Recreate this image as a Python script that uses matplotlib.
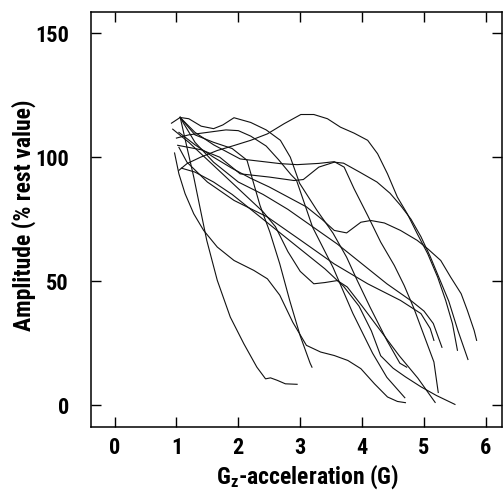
import numpy as np
import matplotlib.pyplot as plt
from matplotlib import font_manager

# traced curves, amplitude (% rest value) vs Gz-acceleration (G)
a_x = [1.06, 1.17, 1.28, 1.39, 1.49, 1.66, 1.87, 2.09, 2.30, 2.44, 2.52, 2.63, 2.76, 2.95]
a_y = [116.2, 104, 92, 78.6, 66.5, 50.4, 35.6, 24.8, 15.4, 10.7, 11.1, 10.1, 8.7, 8.5]

w_x = [0.97, 1.04, 1.14, 1.28, 1.44, 1.66, 1.93, 2.25, 2.47, 2.67, 2.88, 3.10, 3.33, 3.55, 3.77, 3.98, 4.20, 4.41, 4.57, 4.70]
w_y = [101.7, 93.3, 85.3, 77.2, 70.5, 63.8, 58.4, 54.4, 51.0, 44.4, 33.5, 24.2, 21.5, 20.1, 18.1, 14.8, 8.7, 3.4, 1.6, 1.1]

c_x = [1.04, 1.17, 1.39, 1.66, 1.93, 2.20, 2.47, 2.74, 3.01, 3.22, 3.44, 3.65, 3.87, 4.09, 4.25, 4.41, 4.57, 4.73, 4.89, 5.06, 5.22, 5.35, 5.46, 5.54]
c_y = [94.7, 97.4, 100, 102.7, 104.7, 106.8, 109.4, 113.5, 117.2, 117.2, 115.5, 112.1, 109.7, 106.8, 101.4, 93.3, 83.9, 77.2, 69.2, 61.1, 51.7, 42.3, 32.9, 22.2]

t_x = [0.92, 1.06, 1.20, 1.40, 1.60, 1.75, 1.93, 2.20, 2.45, 2.68, 2.84, 2.99, 3.27, 3.53, 3.75, 3.92, 4.13, 4.40, 4.61, 4.72]
t_y = [113.7, 116, 115.5, 112.5, 111.5, 113, 115.9, 114, 111, 106.8, 100, 89.5, 78.6, 69.4, 59.7, 50.4, 39.5, 26.2, 17, 15.4]

d_x = [1.00, 1.20, 1.50, 1.80, 2.00, 2.20, 2.45, 2.65, 2.85, 2.94, 3.20, 3.53, 3.85, 4.17, 4.40, 4.69]
d_y = [107.7, 109, 110, 111, 110.7, 108.5, 104.5, 99, 93, 90.7, 71.8, 55.6, 37.1, 21, 11.3, 3.1]

b_x = [1.02, 1.40, 1.70, 2.03, 2.50, 2.90, 3.05, 3.30, 3.55, 3.70, 3.96, 4.24, 4.45, 4.62, 4.79, 4.95, 5.10, 5.25, 5.40, 5.55, 5.71]
b_y = [104.8, 103, 100, 93.3, 92, 90.6, 91, 96, 98, 97.6, 94, 90, 85.5, 80.6, 75, 68, 60, 51, 42, 30, 18.5]

h_x = [1.06, 1.30, 1.60, 2.03, 2.41, 2.68, 2.95, 3.30, 3.55, 3.71, 3.87, 4.09, 4.30, 4.52, 4.68, 4.84, 5.00, 5.16, 5.23]
h_y = [116, 110, 105, 99.3, 98.2, 97.4, 97, 97.5, 98.2, 96, 87.3, 76.5, 65.8, 56.4, 48.3, 38.9, 28.2, 17.5, 5.2]

e_x = [1.04, 1.30, 1.60, 1.90, 2.20, 2.50, 2.80, 3.10, 3.35, 3.55, 3.75, 3.98, 4.14, 4.36, 4.62, 4.89, 5.06, 5.27, 5.43, 5.60, 5.70, 5.81, 5.85]
e_y = [110, 105, 100, 95.5, 91.5, 88, 84, 80, 75, 70.5, 69.5, 73.8, 74.5, 73.5, 70.5, 66.5, 63.1, 58.4, 51.7, 45, 38.3, 30.2, 26.2]

f_x = [0.94, 1.20, 1.50, 1.80, 2.10, 2.40, 2.60, 2.80, 3.00, 3.22, 3.40, 3.60, 3.76, 4.00, 4.30, 4.60, 4.90, 5.18]
f_y = [111.3, 106, 99, 92, 85, 78, 72, 62, 54, 49, 49.5, 50.3, 47.7, 40, 30, 20, 11, 1.2]

g_x = [1.08, 1.30, 1.60, 1.90, 2.20, 2.50, 2.80, 3.10, 3.40, 3.70, 3.95, 4.15, 4.30, 4.50, 4.70, 4.95, 5.20, 5.50]
g_y = [95.6, 94, 90, 85, 79, 73, 67, 61, 55, 48, 40, 30, 20, 15, 11.5, 7.5, 4, 0.4]

s_x = [1.06, 1.30, 1.60, 1.90, 2.14, 2.35, 2.51, 2.67, 2.83, 3.00, 3.16, 3.19]
s_y = [116, 109, 106, 103.5, 98.8, 80.6, 69.8, 57, 42.3, 28, 17, 15.4]

p_x = [1.04, 1.17, 1.50, 1.93, 2.47, 3.01, 3.55, 4.09, 4.62, 4.95, 5.10, 5.16]
p_y = [104, 98, 90, 82.6, 75.9, 66.5, 57, 49, 42.3, 37, 31, 26.2]

q_x = [1.06, 1.30, 1.60, 2.00, 2.40, 2.80, 3.20, 3.60, 4.00, 4.40, 4.80, 5.00, 5.15, 5.29]
q_y = [116, 106, 98, 90, 85, 79, 72, 65, 57, 49, 42, 38, 33, 23.4]

curves = [(a_x, a_y), (w_x, w_y), (c_x, c_y), (t_x, t_y), (d_x, d_y), (b_x, b_y),
          (h_x, h_y), (e_x, e_y), (f_x, f_y), (g_x, g_y), (s_x, s_y), (p_x, p_y), (q_x, q_y)]

xticks = [0, 1, 2, 3, 4, 5, 6]
yticks = [0, 50, 100, 150]

# pick the narrowest bold font that is actually installed
names = set(f.name for f in font_manager.fontManager.ttflist)
font = 'DejaVu Sans'
stretch = 'condensed'
for cand in ['Liberation Sans Narrow', 'Roboto Condensed', 'Open Sans Condensed', 'Noto Sans Condensed']:
    if cand in names:
        font = cand
        stretch = 'normal'
        break

plt.rcParams['mathtext.fontset'] = 'custom'
plt.rcParams['mathtext.rm'] = font + ':bold'
plt.rcParams['mathtext.it'] = font + ':bold'
plt.rcParams['mathtext.bf'] = font + ':bold'

fig = plt.figure(figsize=(5.04, 4.9), dpi=100)
ax = fig.add_axes([91/504, 1 - 427/490, 411/504, 415/490])

for cx, cy in curves:
    ax.plot(cx, cy, color='#111111', lw=0.8)

ax.set_xlim(-0.38, 6.26)
ax.set_ylim(-8.7, 158.5)
ax.set_xticks(xticks)
ax.set_yticks(yticks)
ax.tick_params(direction='in', length=7, width=1, top=True, right=True, labelsize=16)
ax.tick_params(axis='x', pad=7)
ax.tick_params(axis='y', pad=16)
for lab in ax.get_xticklabels() + ax.get_yticklabels():
    lab.set_family(font)
    lab.set_fontweight('bold')
    lab.set_fontstretch(stretch)
for sp in ax.spines.values():
    sp.set_linewidth(1.1)

ax.set_xlabel(r'G$_\mathrm{z}$-acceleration (G)', family=font, fontweight='bold', fontstretch=stretch, fontsize=17)
ax.set_ylabel('Amplitude (% rest value)', family=font, fontweight='bold', fontstretch=stretch, fontsize=17)
ax.xaxis.set_label_coords(0.528, -0.085)
ax.yaxis.set_label_coords(-0.135, 0.51)

fig.savefig('out.png', dpi=100)
